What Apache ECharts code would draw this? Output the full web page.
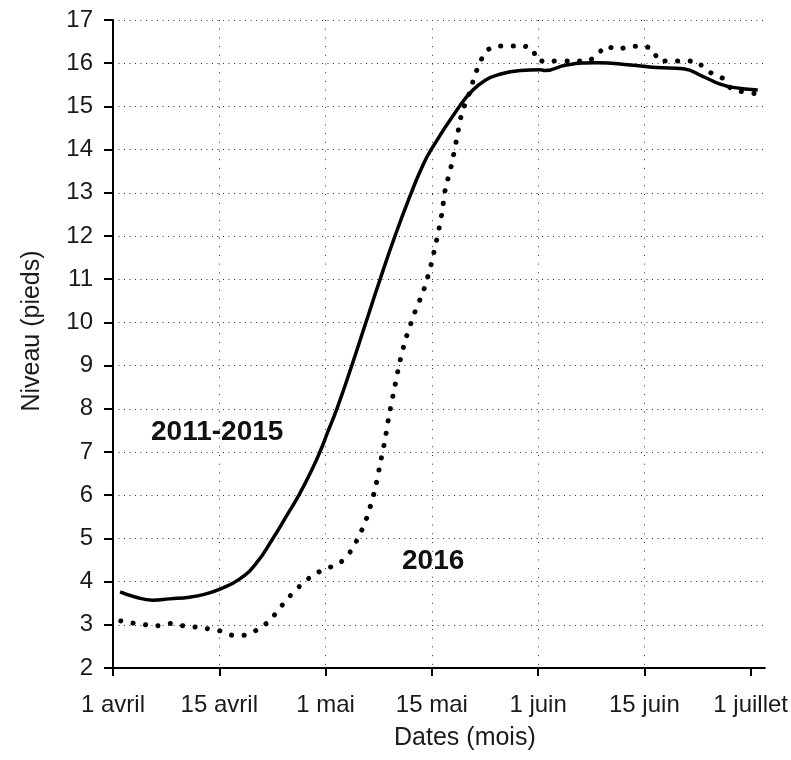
<!DOCTYPE html>
<html>
<head>
<meta charset="utf-8">
<script src="https://cdn.jsdelivr.net/npm/echarts@6/dist/echarts.min.js"></script>
<style>
  html, body { margin: 0; padding: 0; background: #fff; }
  #chart { width: 791px; height: 760px; }
</style>
</head>
<body>
<div id="chart"></div>
<script>
// x = jours depuis le 1 avril
const tickDays = [0, 15, 30, 45, 60, 75, 90]
const tickLabels = ['1 avril', '15 avril', '1 mai', '15 mai', '1 juin', '15 juin', '1 juillet']

// moyenne 2011-2015 (trait plein)
const moyenne = [
  [1, 3.76], [3, 3.65], [5.6, 3.57], [8, 3.6], [10.8, 3.64], [13, 3.71], [15, 3.82],
  [17.8, 4.05], [20.2, 4.42], [22.5, 4.98], [24.6, 5.55], [26.3, 6.02], [28.1, 6.6],
  [29.2, 7.0], [30.4, 7.5], [31.6, 8.0], [33.6, 8.95], [35.6, 9.95], [37.7, 11.0],
  [39.8, 12.0], [42.1, 13.0], [43.5, 13.55], [44.9, 14.0], [48.9, 15.0], [50.8, 15.38],
  [52.6, 15.61], [54.3, 15.73], [57.5, 15.83], [60.3, 15.85], [61, 15.83], [64, 15.96],
  [68.3, 16.01], [73, 15.96], [76.7, 15.9], [80.5, 15.87], [83.3, 15.69], [85.6, 15.52],
  [87.5, 15.44], [91, 15.38]
]

// 2016 (pointillé)
const an2016 = [
  [1.1, 3.09], [2.8, 3.04], [4.6, 3.0], [6.3, 2.98], [8.1, 3.03], [9.8, 2.98],
  [11.6, 2.95], [13.3, 2.91], [15.1, 2.86], [16.8, 2.76], [18.6, 2.76], [20.3, 2.88],
  [22.1, 3.09], [23.5, 3.38], [25, 3.67], [26.7, 3.95], [28.5, 4.18], [30.3, 4.31],
  [32, 4.43], [33.5, 4.69], [34.5, 4.98], [35.3, 5.26], [36, 5.56], [36.5, 5.85],
  [37, 6.14], [37.7, 6.72], [38.4, 7.29], [39, 7.88], [39.7, 8.45], [40.4, 9.03],
  [41.3, 9.61], [42.5, 10.19], [43.9, 10.77], [44.9, 11.34], [45.7, 11.92],
  [46.4, 12.5], [46.9, 13.08], [47.8, 13.66], [48.5, 14.24], [49.2, 14.82],
  [50.5, 15.4], [51, 15.69], [51.7, 15.98], [52.6, 16.27], [54, 16.4], [57.6, 16.4],
  [59.2, 16.34], [60, 16.05], [67, 16.05], [68.4, 16.2], [69.6, 16.4], [71.1, 16.32],
  [72.8, 16.38], [74.6, 16.4], [76.2, 16.32], [77.1, 16.05], [82.3, 16.05],
  [83.5, 15.87], [84.9, 15.73], [86.3, 15.63], [87.3, 15.4], [90.5, 15.3]
]

const myChart = echarts.init(document.getElementById('chart'))
const font = 'Liberation Sans, Arial, sans-serif'
const option = {
  animation: false,
  grid: {
    top: 20,
    bottom: 92,
    left: 113,
    right: 22
  },
  xAxis: {
    type: 'value',
    min: 0,
    max: 92,
    interval: 15,
    name: 'Dates (mois)',
    nameLocation: 'middle',
    nameGap: 58,
    nameTextStyle: {
      fontFamily: font,
      fontSize: 25,
      color: '#1a1a1a',
      padding: [0, 0, 0, 52]
    },
    axisLine: {
      lineStyle: { color: '#000', width: 2 }
    },
    axisTick: {
      length: 8,
      customValues: tickDays,
      lineStyle: { color: '#000', width: 2 }
    },
    axisLabel: {
      customValues: tickDays,
      margin: 25,
      fontFamily: font,
      fontSize: 24,
      color: '#1a1a1a',
      formatter: v => tickLabels[tickDays.indexOf(v)] || ''
    },
    splitLine: {
      show: true,
      showMinLine: false,
      showMaxLine: false,
      lineStyle: { color: '#333', width: 1, type: [1, 7.7] }
    }
  },
  yAxis: {
    type: 'value',
    min: 2,
    max: 17,
    interval: 1,
    name: 'Niveau (pieds)',
    nameLocation: 'middle',
    nameGap: 68,
    nameTextStyle: {
      fontFamily: font,
      fontSize: 25,
      color: '#1a1a1a',
      padding: [0, 0, 0, 26]
    },
    axisLine: {
      show: true,
      lineStyle: { color: '#000', width: 2 }
    },
    axisTick: {
      show: true,
      length: 9,
      lineStyle: { color: '#000', width: 2 }
    },
    axisLabel: {
      margin: 20,
      fontFamily: font,
      fontSize: 24,
      color: '#1a1a1a'
    },
    splitLine: {
      showMinLine: false,
      lineStyle: { color: '#333', width: 1, type: [1, 4.5] }
    }
  },
  graphic: [
    {
      type: 'text',
      left: 151,
      top: 418,
      style: { text: '2011-2015', font: 'bold 28px ' + font, fill: '#111' }
    },
    {
      type: 'text',
      left: 402,
      top: 547,
      style: { text: '2016', font: 'bold 28px ' + font, fill: '#111' }
    }
  ],
  series: [
    {
      name: '2011-2015',
      type: 'line',
      data: moyenne,
      smooth: 0.5,
      showSymbol: false,
      lineStyle: { color: '#000', width: 3.5 }
    },
    {
      name: '2016',
      type: 'line',
      data: an2016,
      smooth: 0.2,
      showSymbol: false,
      lineStyle: { color: '#000', width: 5, type: [0.1, 12.4], cap: 'round' }
    }
  ]
}
myChart.setOption(option)
</script>
</body>
</html>
